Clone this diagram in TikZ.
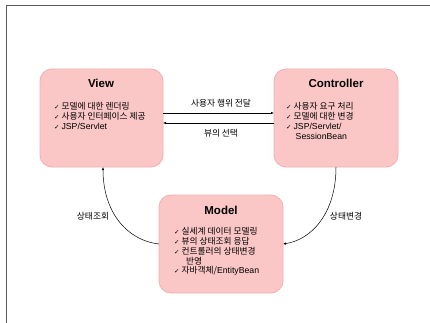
\documentclass[tikz,border=0pt]{standalone}
\usepackage{fontspec}
\setmainfont{Noto Sans CJK KR}
\newfontfamily\symfont{DejaVu Sans}
\newfontfamily\latfont{Liberation Sans}
\usetikzlibrary{arrows.meta}
\definecolor{boxfill}{HTML}{FAC6C6}
\definecolor{boxedge}{HTML}{F0B0B0}
\begin{document}
\begin{tikzpicture}[x=1pt,y=-1pt,
  mvcbox/.style={draw=boxedge,fill=boxfill,rounded corners=12pt,line width=0.8pt},
  ttl/.style={font=\latfont\fontsize{11.5}{13}\selectfont\bfseries},
  itm/.style={font=\fontsize{8.7}{10}\selectfont,anchor=west,inner sep=0pt},
  lbl/.style={font=\fontsize{8.7}{10}\selectfont,inner sep=0pt},
  con/.style={line width=0.5pt,-{Latex[length=3pt,width=2.4pt]}}]
\useasboundingbox (0,0) rectangle (430,323);
\draw[gray!70!black,line width=1pt] (6,323) -- (6,6) -- (430,6);
% boxes
\path[mvcbox] (40,69) rectangle (163,167);
\path[mvcbox] (274,69) rectangle (398,167);
\path[mvcbox] (159,195) rectangle (283,293);
\node[ttl] (vt) at (101,83) {View};
\node[ttl] (ct) at (336,83) {Controller};
\node[ttl] (mt) at (221,210) {Model};
\newcommand{\chk}{{\symfont\fontsize{6.5}{6}\selectfont ✓}}
\newcommand{\lt}[1]{{\latfont #1}}
% view items
\node[itm] (v1) at (54,106) {\chk\ 모델에 대한 렌더링};
\node[itm] (v2) at (54,116) {\chk\ 사용자 인터페이스 제공};
\node[itm] (v3) at (54,126) {\chk\ \lt{JSP/Servlet}};
% controller items
\node[itm] (c1) at (286,106) {\chk\ 사용자 요구 처리};
\node[itm] (c2) at (286,116) {\chk\ 모델에 대한 변경};
\node[itm] (c3) at (286,126) {\chk\ \lt{JSP/Servlet/}};
\node[itm] (c4) at (295.5,136) {\lt{SessionBean}};
% model items
\node[itm] (m1) at (174,231) {\chk\ 실세계 데이터 모델링};
\node[itm] (m2) at (174,241) {\chk\ 뷰의 상태조회 응답};
\node[itm] (m3) at (174,251) {\chk\ 컨트롤러의 상태변경};
\node[itm] (m4) at (186,261) {반영};
\node[itm] (m5) at (174,271) {\chk\ 자바객체/\lt{EntityBean}};
% connector anchors
\coordinate (vR1) at (163,113);
\coordinate (cL1) at (274,113);
\coordinate (cL2) at (274,123);
\coordinate (vR2) at (163,123);
\coordinate (cB) at (336,167);
\coordinate (mR) at (283,244);
\coordinate (mL) at (159,244);
\coordinate (vB) at (103,167);
\draw[con] (vR1) -- (cL1);
\draw[con] (cL2) -- (vR2);
\draw[con] (cB) .. controls (336,215) and (310,240) .. (mR);
\draw[con] (mL) .. controls (125,240) and (103,210) .. (vB);
\node[lbl] (l1) at (221,103) {사용자 행위 전달};
\node[lbl] (l2) at (221,133) {뷰의 선택};
\node[lbl] (l3) at (346,216) {상태변경};
\node[lbl] (l4) at (93,216) {상태조회};
\end{tikzpicture}
\end{document}
